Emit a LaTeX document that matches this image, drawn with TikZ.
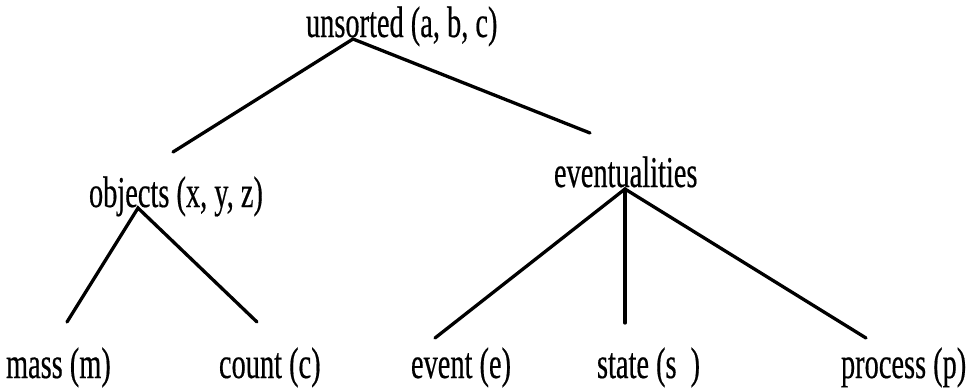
\documentclass[tikz,border=0pt]{standalone}
\usepackage{fontspec}
\setmainfont{Liberation Serif}[FakeStretch=0.645,FakeBold=0.4]
\begin{document}
\begin{tikzpicture}[x=1pt,y=-1pt,
  lbl/.style={anchor=base west,inner sep=0pt,outer sep=0pt,font=\fontsize{44}{46}\selectfont},
  edge/.style={line width=3.3pt,line cap=round,black}]
\useasboundingbox (0,0) rectangle (968,389);
% labels
\node[lbl] (unsorted) at (306,37) {unsorted (a, b, c)};
\node[lbl] (objects) at (89,207) {objects (x, y, z)};
\node[lbl] (event) at (554,187) {eventualities};
\node[lbl] (mass) at (6,378) {mass (m)};
\node[lbl] (count) at (219,378) {count (c)};
\node[lbl] (ev) at (411,378) {event (e)};
\node[lbl] (state) at (597,378) {state (s\hspace{14pt})};
\node[lbl] (process) at (841,378) {process (p)};
% branch points
\coordinate (uA) at (353,39);
\coordinate (uL) at (173,152);
\coordinate (uR) at (590,133);
\coordinate (oA) at (138,208);
\coordinate (oL) at (67,322);
\coordinate (oR) at (257,322);
\coordinate (eA) at (625,189);
\coordinate (eL) at (435,338);
\coordinate (eM) at (625,323);
\coordinate (eR) at (866,338);
% connectors
\draw[edge] (uL) -- (uA) -- (uR);
\draw[edge] (oL) -- (oA) -- (oR);
\draw[edge] (eL) -- (eA) -- (eR);
\draw[edge] (eA) -- (eM);
\end{tikzpicture}
\end{document}
